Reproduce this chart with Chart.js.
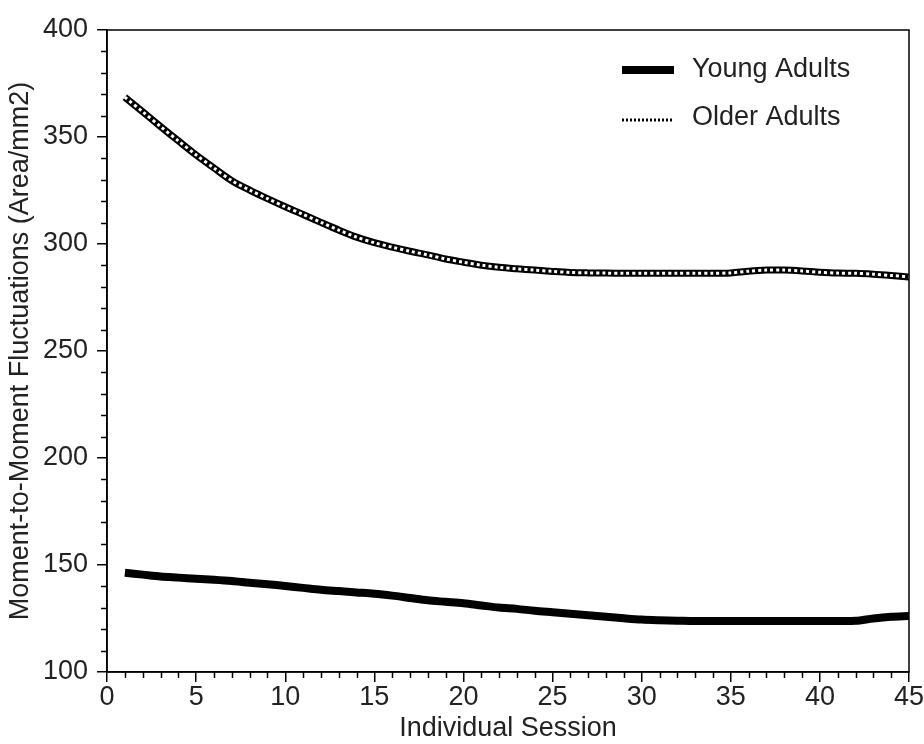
<!DOCTYPE html>
<html>
<head>
<meta charset="utf-8">
<script src="https://cdn.jsdelivr.net/npm/chart.js@4"></script>
<style>
  html, body { margin: 0; padding: 0; background: #fff; }
  #wrap { width: 924px; height: 744px; }
</style>
</head>
<body>
<div id="wrap"><canvas id="sessionChart"></canvas></div>
<script>
// sessions 1..45
const sessions = [1, 2, 3, 4, 5, 6, 7, 8, 9, 10, 11, 12, 13, 14, 15, 16, 17, 18, 19, 20,
  21, 22, 23, 24, 25, 26, 27, 28, 29, 30, 31, 32, 33, 34, 35, 36, 37, 38, 39, 40,
  41, 42, 43, 44, 45];

const youngAdults = [146.4, 145.5, 144.6, 144.1, 143.6, 143.1, 142.5, 141.7, 141.0, 140.2,
  139.3, 138.4, 137.8, 137.2, 136.6, 135.7, 134.6, 133.5, 132.8, 132.1,
  131.1, 130.1, 129.5, 128.6, 127.9, 127.2, 126.5, 125.8, 125.1, 124.5,
  124.2, 124.0, 123.8, 123.8, 123.8, 123.8, 123.8, 123.8, 123.8, 123.8,
  123.8, 123.9, 125.0, 125.8, 126.2];

const olderAdults = [368.6, 361.8, 354.9, 348.2, 341.6, 335.5, 329.6, 325.2, 321.2, 317.4,
  313.8, 310.1, 306.5, 303.2, 300.6, 298.5, 296.6, 294.9, 293.0, 291.5,
  290.1, 289.1, 288.4, 287.8, 287.2, 286.7, 286.5, 286.4, 286.3, 286.3,
  286.3, 286.3, 286.3, 286.3, 286.5, 287.3, 287.8, 287.8, 287.4, 286.8,
  286.4, 286.3, 285.9, 285.3, 284.6];

const xTicks = [0, 5, 10, 15, 20, 25, 30, 35, 40, 45];
const yTicks = [100, 150, 200, 250, 300, 350, 400];

const fontFamily = '"Liberation Sans", Arial, Helvetica, sans-serif';
const textColor = '#222';

function points(values) {
  return sessions.map((s, i) => ({ x: s, y: values[i] }));
}

// box frame, minor ticks and the legend in the top right corner
const framePlugin = {
  id: 'frame',
  afterDraw(chart) {
    const { ctx, chartArea: a, scales: { x, y } } = chart;
    ctx.save();
    ctx.strokeStyle = '#000';
    ctx.lineWidth = 1.5;
    ctx.strokeRect(a.left, a.top, a.right - a.left, a.bottom - a.top);

    ctx.beginPath();
    for (let v = x.min; v <= x.max; v++) {
      if (v % 5 === 0) continue;
      const px = Math.round(x.getPixelForValue(v)) + 0.5;
      ctx.moveTo(px, a.bottom);
      ctx.lineTo(px, a.bottom + 6);
    }
    for (let v = y.min; v <= y.max; v += 10) {
      if (v % 50 === 0) continue;
      const py = Math.round(y.getPixelForValue(v)) + 0.5;
      ctx.moveTo(a.left, py);
      ctx.lineTo(a.left - 6, py);
    }
    ctx.stroke();

    // legend
    const lx = a.right - 287;
    const rows = [a.top + 40, a.top + 88];
    ctx.lineCap = 'butt';
    ctx.beginPath();
    ctx.lineWidth = 8;
    ctx.strokeStyle = '#000';
    ctx.moveTo(lx, rows[0]);
    ctx.lineTo(lx + 52, rows[0]);
    ctx.stroke();

    ctx.beginPath();
    ctx.lineWidth = 3;
    ctx.setLineDash([2, 2]);
    ctx.moveTo(lx, rows[1] + 2);
    ctx.lineTo(lx + 52, rows[1] + 2);
    ctx.stroke();
    ctx.setLineDash([]);

    ctx.fillStyle = textColor;
    ctx.font = '27px ' + fontFamily;
    ctx.textBaseline = 'middle';
    ctx.fillText('Young Adults', lx + 70, rows[0]);
    ctx.fillText('Older Adults', lx + 70, rows[1]);
    ctx.restore();
  }
};

new Chart(document.getElementById('sessionChart'), {
  type: 'line',
  data: {
    datasets: [
      {
        // white dashes on top of the black older-adults line -> checkered look
        label: 'Older Adults overlay',
        data: points(olderAdults),
        borderColor: '#fff',
        borderWidth: 3,
        borderDash: [3, 3],
        pointRadius: 0,
        tension: 0.3
      },
      {
        label: 'Young Adults',
        data: points(youngAdults),
        borderColor: '#000',
        borderWidth: 8,
        pointRadius: 0,
        tension: 0.3
      },
      {
        label: 'Older Adults',
        data: points(olderAdults),
        borderColor: '#000',
        borderWidth: 7,
        pointRadius: 0,
        tension: 0.3
      }
    ]
  },
  options: {
    responsive: true,
    maintainAspectRatio: false,
    animation: false,
    layout: { padding: { top: 30, right: 0, left: 7, bottom: 0 } },
    plugins: {
      legend: { display: false },
      tooltip: { enabled: false }
    },
    scales: {
      x: {
        type: 'linear',
        min: 0,
        max: 45,
        afterBuildTicks: scale => { scale.ticks = xTicks.map(v => ({ value: v })); },
        afterFit: scale => { scale.paddingRight = 15; },
        grid: { drawOnChartArea: false, drawTicks: true, tickLength: 10, color: '#000', lineWidth: 1.5 },
        border: { display: true, color: '#000', width: 1.5 },
        ticks: { color: textColor, font: { family: fontFamily, size: 27, lineHeight: 1 }, padding: 2, maxRotation: 0 },
        title: {
          display: true,
          text: 'Individual Session',
          color: textColor,
          font: { family: fontFamily, size: 27, lineHeight: 1 },
          padding: { top: 2, bottom: 2 }
        }
      },
      y: {
        min: 100,
        max: 400,
        afterBuildTicks: scale => { scale.ticks = yTicks.map(v => ({ value: v })); },
        grid: { drawOnChartArea: false, drawTicks: true, tickLength: 10, color: '#000', lineWidth: 1.5 },
        border: { display: true, color: '#000', width: 1.5 },
        ticks: { color: textColor, font: { family: fontFamily, size: 27, lineHeight: 1 }, padding: 9 },
        title: {
          display: true,
          text: 'Moment-to-Moment Fluctuations (Area/mm2)',
          color: textColor,
          font: { family: fontFamily, size: 27, lineHeight: 1 },
          padding: { top: 0, bottom: 0 }
        }
      }
    }
  },
  plugins: [framePlugin]
});
</script>
</body>
</html>
